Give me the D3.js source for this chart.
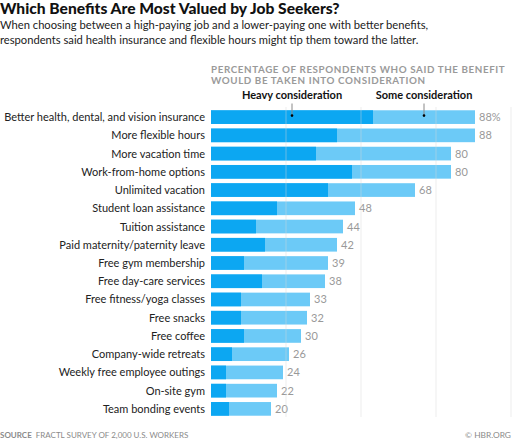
<!DOCTYPE html>
<html><head><meta charset="utf-8">
<script src="https://cdn.jsdelivr.net/npm/d3@7"></script>
<style>
html,body{margin:0;padding:0;background:#fff;}
svg{display:block;font-family:Lato,"Noto Sans",sans-serif;}
</style></head>
<body>
<svg id="c" width="512" height="441"></svg>
<script>
const categories = ["Better health, dental, and vision insurance","More flexible hours","More vacation time","Work-from-home options","Unlimited vacation","Student loan assistance","Tuition assistance","Paid maternity/paternity leave","Free gym membership","Free day-care services","Free fitness/yoga classes","Free snacks","Free coffee","Company-wide retreats","Weekly free employee outings","On-site gym","Team bonding events"];
const totalValues = [88,88,80,80,68,48,44,42,39,38,33,32,30,26,24,22,20];
const heavyValues = [54,42,35,47,39,22,15,18,11,17,10,10,11,7,5,5,6];
const valueLabels = ["88%","88","80","80","68","48","44","42","39","38","33","32","30","26","24","22","20"];
const gridTicks = [25,50,75,100];

const svg = d3.select("#c");
const x = d3.scaleLinear().domain([0,100]).range([211,511]);
const y = d3.scaleBand().domain(categories).range([108,418]).paddingInner(0.25).paddingOuter(0.125);

// title
svg.append("text").attr("x",0).attr("y",14).attr("font-size",15.6).attr("font-weight",900).attr("fill","#111")
  .text("Which Benefits Are Most Valued by Job Seekers?");
const sub = ["When choosing between a high-paying job and a lower-paying one with better benefits,","respondents said health insurance and flexible hours might tip them toward the latter."];
svg.selectAll("text.sub").data(sub).enter().append("text").attr("class","sub")
  .attr("x",0).attr("y",(d,i)=>29+i*14.5).attr("font-size",11.2).attr("fill","#222").text(d=>d);

// header
const hdr = ["PERCENTAGE OF RESPONDENTS WHO SAID THE BENEFIT","WOULD BE TAKEN INTO CONSIDERATION"];
svg.selectAll("text.hdr").data(hdr).enter().append("text").attr("class","hdr")
  .attr("x",211).attr("y",(d,i)=>73+i*10.5).attr("font-size",9.8).attr("font-weight",700).attr("fill","#9a9a9a")
  .attr("letter-spacing",0.6).text(d=>d);

// bars
const g = svg.append("g");
const rows = categories.map((c,i)=>({c,t:totalValues[i],h:heavyValues[i],l:valueLabels[i]}));
g.selectAll("rect.tot").data(rows).enter().append("rect").attr("class","tot")
  .attr("x",x(0)).attr("y",d=>y(d.c)).attr("width",d=>x(d.t)-x(0)).attr("height",y.bandwidth()).attr("fill","#6ccaf7");
g.selectAll("rect.hv").data(rows).enter().append("rect").attr("class","hv")
  .attr("x",x(0)).attr("y",d=>y(d.c)).attr("width",d=>x(d.h)-x(0)).attr("height",y.bandwidth()).attr("fill","#0ca7f2");

// grid on top
svg.append("g").selectAll("line").data(gridTicks).enter().append("line")
  .attr("x1",d=>x(d)).attr("x2",d=>x(d)).attr("y1",107).attr("y2",417)
  .attr("stroke","#d8d8d8").attr("stroke-opacity",0.45).attr("stroke-width",1);

// labels
g.selectAll("text.cat").data(rows).enter().append("text").attr("class","cat")
  .attr("x",205).attr("y",d=>y(d.c)+y.bandwidth()/2+4).attr("text-anchor","end")
  .attr("font-size",11).attr("fill","#222").text(d=>d.c);
g.selectAll("text.val").data(rows).enter().append("text").attr("class","val")
  .attr("x",d=>x(d.t)+4).attr("y",d=>y(d.c)+y.bandwidth()/2+4)
  .attr("font-size",11).attr("fill","#999").text(d=>d.l);

// legend markers
const first = rows[0];
const legend = [{name:"Heavy consideration",v:first.h/2},{name:"Some consideration",v:(first.h+first.t)/2}];
const ly = y(first.c)+y.bandwidth()/2-1.5;
const lg = svg.append("g");
lg.selectAll("line").data(legend).enter().append("line")
  .attr("x1",d=>x(d.v)).attr("x2",d=>x(d.v)).attr("y1",103.5).attr("y2",ly).attr("stroke","#888").attr("stroke-width",1);
lg.selectAll("circle").data(legend).enter().append("circle")
  .attr("cx",d=>x(d.v)).attr("cy",ly).attr("r",1.3).attr("fill","#000");
lg.selectAll("text").data(legend).enter().append("text")
  .attr("x",d=>x(d.v)).attr("y",99).attr("text-anchor","middle").attr("font-size",11).attr("font-weight",700).attr("fill","#111")
  .text(d=>d.name);

// footer
const f = svg.append("text").attr("x",0).attr("y",438).attr("font-size",8).attr("fill","#8a8a8a");
f.append("tspan").attr("font-weight",700).text("SOURCE");
f.append("tspan").attr("dx",4).text("FRACTL SURVEY OF 2,000 U.S. WORKERS");
svg.append("text").attr("x",511).attr("y",438).attr("text-anchor","end").attr("font-size",8.4).attr("fill","#8a8a8a").text("© HBR.ORG");
</script>
</body></html>
